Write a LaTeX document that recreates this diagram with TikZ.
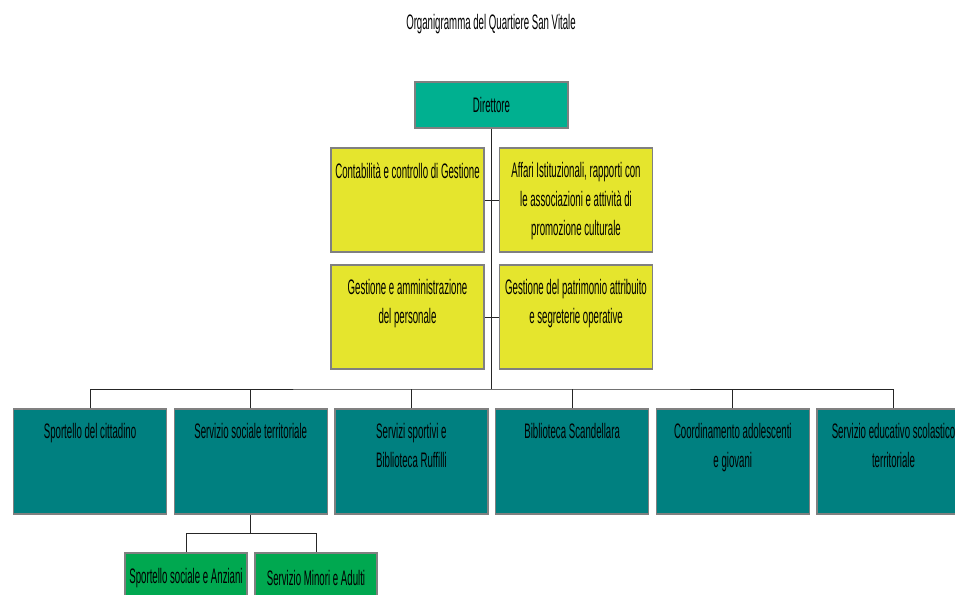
\documentclass[tikz,border=0pt]{standalone}
\usepackage{fontspec}
\setmainfont{Liberation Sans}[FakeStretch=0.46]
\usepackage{tikz}
\usetikzlibrary{positioning}

\definecolor{verdetesta}{RGB}{0,176,144}
\definecolor{giallo}{RGB}{229,229,45}
\definecolor{ottanio}{RGB}{0,128,128}
\definecolor{verde}{RGB}{0,168,80}

\begin{document}
\begin{tikzpicture}
		[x=1pt,y=-1pt,
		testa/.style={draw=gray,line width=1.2pt,fill=verdetesta,minimum width=153pt,minimum height=46pt,inner sep=0pt,font=\fontsize{21}{29}\selectfont},
		staff/.style={draw=gray,line width=1.2pt,fill=giallo,minimum width=153pt,minimum height=104pt,inner sep=0pt},
		servizio/.style={draw=gray,line width=1.2pt,fill=ottanio,minimum width=153pt,minimum height=105pt,inner sep=0pt},
		ufficio/.style={draw=gray,line width=1.2pt,fill=verde,minimum width=122pt,minimum height=50pt,inner sep=0pt,font=\fontsize{21}{29}\selectfont},
		testo/.style={anchor=north,align=center,inner sep=0pt,yshift=-15pt,font=\fontsize{21}{29}\selectfont},
		linea/.style={draw=black!85,line width=0.9pt}]

			\clip (0,0) rectangle (955,594);
			\useasboundingbox (0,0) rectangle (955,594);
			\fill[white] (0,0) rectangle (955,594);

			\node[font=\fontsize{21}{29}\selectfont](titolo) at (491,24) {Organigramma del Quartiere San Vitale};

			\node[testa](direttore) at (491.5,105) {Direttore};

			% staff
			\node[staff, label={[testo]north:Contabilità e controllo di Gestione}](contab) at (407.5,200) {};
			\node[staff, right=14.3pt of contab, label={[testo]north:Affari Istituzionali, rapporti con\\le associazioni e attività di\\promozione culturale}](affari) {};
			\node[staff, below=11.8pt of contab, label={[testo]north:Gestione e amministrazione\\del personale}](personale) {};
			\node[staff, below=11.8pt of affari, label={[testo]north:Gestione del patrimonio attribuito\\e segreterie operative}](patrimonio) {};

			% servizi
			\node[servizio, label={[testo]north:Sportello del cittadino}](sportello) at (90,461.5) {};
			\node[servizio, right=6.5pt of sportello, label={[testo]north:Servizio sociale territoriale}](sociale) {};
			\node[servizio, right=6.5pt of sociale, label={[testo]north:Servizi sportivi e\\Biblioteca Ruffilli}](sportivi) {};
			\node[servizio, right=6.5pt of sportivi, label={[testo]north:Biblioteca Scandellara}](scandellara) {};
			\node[servizio, right=6.5pt of scandellara, label={[testo]north:Coordinamento adolescenti\\e giovani}](giovani) {};
			\node[servizio, right=6.5pt of giovani, label={[testo]north:Servizio educativo scolastico\\territoriale}](educativo) {};

			\node[ufficio](anziani) at (186,578) {Sportello sociale e Anziani};
			\node[ufficio, right=6.8pt of anziani](minori) {Servizio Minori e Adulti};

			\coordinate (bus) at (491.5,389);
			\coordinate[below=19pt of sociale.south] (snodo);

			\draw[linea] (direttore.south) -- (bus);
			\draw[linea] (contab.east) -- (affari.west);
			\draw[linea] (personale.east) -- (patrimonio.west);
			\draw[linea] (sportello.north) |- (bus) -| (educativo.north);
			\foreach \s in {sociale,sportivi,scandellara,giovani}
				\draw[linea] (\s.north) -- (\s.north |- bus);
			\draw[linea] (sociale.south) -- (snodo);
			\draw[linea] (anziani.north) |- (snodo) -| (minori.north);

	\end{tikzpicture}
\end{document}
